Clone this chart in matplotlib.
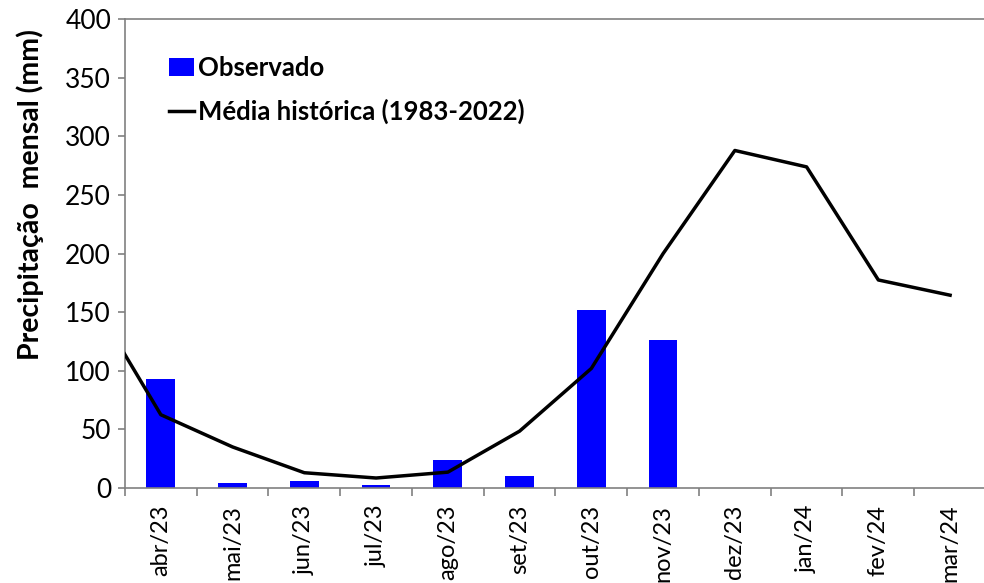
import matplotlib
matplotlib.use("Agg")
import matplotlib.pyplot as plt
from matplotlib.patches import Patch
from matplotlib.lines import Line2D
import numpy as np

months = ["abr/23", "mai/23", "jun/23", "jul/23", "ago/23", "set/23",
          "out/23", "nov/23", "dez/23", "jan/24", "fev/24", "mar/24"]
observado = [93, 4.5, 6, 2.5, 24, 10.5, 152, 126]
# historical mean, starting with the previous March (clipped at the axis edge)
media_prev_mar = 165
media = [62.5, 35, 13, 8.5, 13.5, 48.5, 102, 200, 288, 274, 177.5, 164.5]

plt.rcParams['font.family'] = ['Lato', 'DejaVu Sans']

fig = plt.figure(figsize=(9.84, 5.83), dpi=100)
ax = fig.add_axes([0.127, 0.163, 0.875, 0.804])

x_obs = np.arange(len(observado))
ax.bar(x_obs, observado, width=0.4, color="#0000FF", zorder=2)

x_line = np.arange(-1, len(media))
y_line = [media_prev_mar] + media
ax.plot(x_line, y_line, color="black", lw=2.5, zorder=3, clip_on=True)

ax.set_xlim(-0.5, len(months) - 0.5)
ax.set_ylim(0, 400)
ax.set_yticks(np.arange(0, 401, 50))
ax.tick_params(axis='y', labelsize=19, length=5, color="#808080", width=1.2, pad=5)

ax.set_xticks(np.arange(len(months)))
ax.set_xticklabels(months, rotation=90, fontsize=17)
ax.tick_params(axis='x', which='major', length=0, pad=12)
ax.set_xticks(np.arange(-0.5, len(months) + 0.5, 1), minor=True)
ax.tick_params(axis='x', which='minor', length=6, color="#808080", width=1.2)

for s in ["left", "bottom", "top"]:
    ax.spines[s].set_color("#808080")
    ax.spines[s].set_linewidth(1.2)
ax.spines["right"].set_visible(False)

ax.set_ylabel("Precipitação  mensal (mm)", fontsize=20.5, fontweight="bold")
ax.yaxis.set_label_coords(-0.094, 0.625)

handles = [Patch(facecolor="#0000FF", edgecolor="none", label="Observado"),
           Line2D([0], [0], color="black", lw=2.5, label="Média histórica (1983-2022)")]
ax.legend(handles=handles, loc="upper left", bbox_to_anchor=(0.024, 0.97),
          frameon=False, prop={"weight": "bold", "size": 18.5},
          handlelength=1.0, handletextpad=0.15, labelspacing=0.7)

fig.savefig("out.png", dpi=100)
